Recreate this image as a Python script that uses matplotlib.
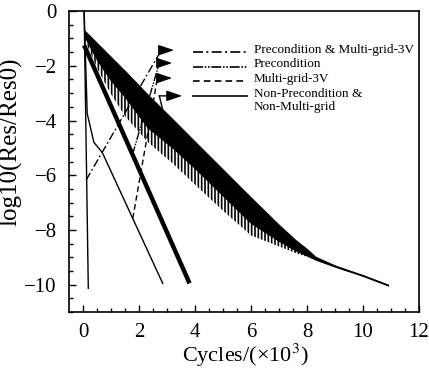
import numpy as np
import matplotlib
matplotlib.use("Agg")
import matplotlib.pyplot as plt

plt.rcParams["font.family"] = ["Liberation Serif", "DejaVu Serif"]
plt.rcParams["mathtext.fontset"] = "stix"
plt.rcParams["hatch.linewidth"] = 1.2
plt.rcParams["hatch.color"] = "black"

# curve: Precondition & Multi-grid-3V (near-vertical drop)
pmg_x = [0.03, 0.18]
pmg_y = [0.0, -10.13]

# curve: Multi-grid-3V
mg_x = [0.03, 0.14, 0.38, 0.68, 2.84]
mg_y = [0.0, -3.74, -4.80, -5.17, -9.95]

# curve: Precondition
pre_x = [0.03, 3.80]
pre_y = [-1.25, -9.95]

# curve: Non-Precondition & Non-Multi-grid (oscillating band: envelopes)
band_x     = [0.03, 0.5, 1.0, 1.5, 2.3, 3.2, 4.0, 5.0, 6.0, 7.0, 7.6, 8.0, 8.3, 9.0, 10.0, 10.9]
band_upper = [-0.70, -1.18, -1.69, -2.20, -3.05, -3.96, -4.78, -5.80, -6.82, -7.82, -8.38, -8.70, -8.98, -9.30, -9.65, -10.00]
band_lower = [-0.90, -1.80, -2.55, -3.15, -4.25, -5.00, -5.75, -6.75, -7.75, -8.40, -8.75, -8.93, -9.08, -9.34, -9.68, -10.03]
band_spike = [-1.00, -2.10, -3.05, -3.85, -4.78, -5.57, -6.35, -7.30, -8.20, -8.60, -8.85, -8.98, -9.10, -9.36, -9.70, -10.04]

labels = ["Precondition & Multi-grid-3V", "Precondition", "Multi-grid-3V",
          "Non-Precondition &\nNon-Multi-grid"]
styles = [(0, (6, 2, 1.2, 2)), (0, (6, 1, 1, 1, 1, 1)), (0, (4, 2.5)), "-"]

# leader lines: from curve point up to arrow base, then arrow tip
lead_from = [(0.10, -6.18), (1.76, -5.24), (1.77, -7.58), (2.90, -3.87)]
lead_to   = [(2.79, -1.43), (2.72, -1.90), (2.65, -2.45), (2.72, -3.10)]
tip_x     = [3.25, 3.18, 3.18, 3.54]

fig = plt.figure(figsize=(4.29, 3.68), dpi=100)
ax = fig.add_axes([0.1615, 0.152, 0.815, 0.818])

# spiky fringe under the dense oscillation band
ax.fill_between(band_x, band_lower, band_spike, facecolor="none",
                edgecolor="black", hatch="|||||", linewidth=0)
ax.fill_between(band_x, band_upper, band_lower, color="black", linewidth=0.8)
ax.plot(pmg_x, pmg_y, color="black", lw=1.0)
ax.plot(mg_x, mg_y, color="black", lw=1.0)
ax.plot(pre_x, pre_y, color="black", lw=3.2, solid_capstyle="butt")

for (x0, y0), (x1, y1), tx, ls in zip(lead_from, lead_to, tip_x, styles):
    ax.plot([x0, x1], [y0, y1], color="black", lw=1.0, linestyle=ls)
    ax.annotate("", xy=(tx, y1), xytext=(x1, y1),
                arrowprops=dict(arrowstyle="-|>,head_length=0.95,head_width=0.32",
                                color="black", lw=1.0, shrinkA=0, shrinkB=0))

# legend drawn by hand
rows = [0.863, 0.815, 0.767, 0.717]
for yy, lab, ls in zip(rows, labels, styles):
    ax.plot([0.354, 0.508], [yy, yy], transform=ax.transAxes, color="black",
            lw=1.2, linestyle=ls)
    ax.annotate(lab, xy=(0.528, yy), xycoords="axes fraction",
                xytext=(0, 6), textcoords="offset points",
                fontsize=9.5, va="top", ha="left", linespacing=1.15)

ax.set_xlim(-0.5, 12)
ax.set_ylim(-11, 0)
ax.set_xticks(np.arange(0, 13, 2))
ax.set_yticks(np.arange(-10, 1, 2))
ax.set_xticks(np.arange(0, 12, 0.5), minor=True)
ax.set_yticks(np.arange(-11, 0, 0.5), minor=True)
ax.tick_params(direction="in", which="both", top=False, right=False,
               labelsize=15, width=1.0)
ax.tick_params(which="major", length=5)
ax.tick_params(which="minor", length=3)
ax.tick_params(axis="x", pad=8)
ax.tick_params(axis="y", pad=9)
for sp in ax.spines.values():
    sp.set_linewidth(1.2)

ax.set_xlabel("Cycles/(×10$^{3}$)", fontsize=16, va="center")
ax.set_ylabel("log10(Res/Res0)", fontsize=18)
ax.xaxis.set_label_coords(0.502, -0.143)
ax.yaxis.set_label_coords(-0.135, 0.565)

fig.savefig("out.png", dpi=100)
